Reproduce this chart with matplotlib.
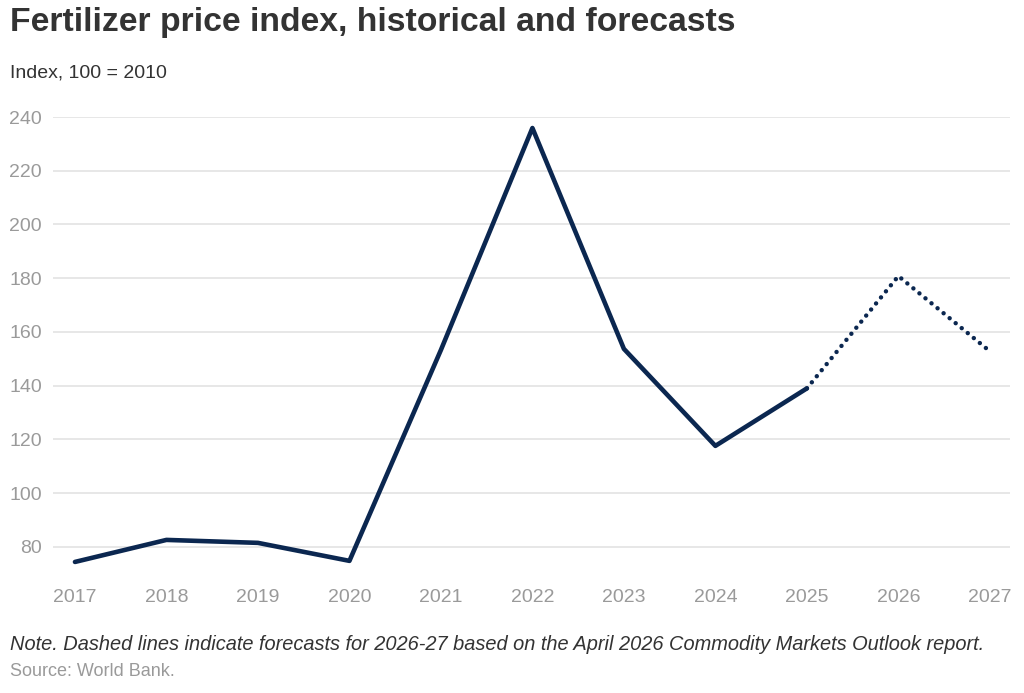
import matplotlib
matplotlib.use("Agg")
import matplotlib.pyplot as plt

years = [2017, 2018, 2019, 2020, 2021, 2022, 2023, 2024, 2025, 2026, 2027]
values = [74.4, 82.6, 81.5, 74.8, 153.3, 235.9, 153.7, 117.6, 139.0, 180.8, 152.8]
n_hist = 9  # 2017-2025 historical, 2025-2027 forecast
yticks = [80, 100, 120, 140, 160, 180, 200, 220, 240]

plt.rcParams['font.family'] = ['Liberation Sans', 'DejaVu Sans']
navy = '#0b2750'

fig = plt.figure(figsize=(10.24, 6.93), dpi=100)
ax = fig.add_axes([53/1024, 1-570/693, (1010-53)/1024, (570-117)/693])

ax.plot(years[:n_hist], values[:n_hist], color=navy, lw=3.3,
        solid_capstyle='round', solid_joinstyle='round')
ax.plot(years[n_hist-1:], values[n_hist-1:], color=navy, lw=3.2,
        linestyle=(0, (0.01, 1.75)), dash_capstyle='round')

ax.set_xlim(2016.76, 2027.22)
ax.set_ylim(71.4, 240)
ax.set_yticks(yticks)
ax.set_xticks(years)
ax.set_xticklabels([str(y) for y in years])
ax.grid(axis='y', color='#e3e3e3', lw=1.2)
ax.set_axisbelow(True)
for s in ax.spines.values():
    s.set_visible(False)
ax.tick_params(axis='both', length=0, labelsize=14, labelcolor='#9a9a9a')
ax.tick_params(axis='y', pad=8)
ax.tick_params(axis='x', pad=14)

fig.text(10/1024, 1-22/693, 'Fertilizer price index, historical and forecasts',
         fontsize=24.3, fontweight='bold', color='#333333', va='center', ha='left')
fig.text(10/1024, 1-73/693, 'Index, 100 = 2010', fontsize=14, color='#333333',
         va='center', ha='left')
fig.text(10/1024, 1-645/693,
         'Note. Dashed lines indicate forecasts for 2026-27 based on the April 2026 Commodity Markets Outlook report.',
         fontsize=14.4, style='italic', color='#333333', va='center', ha='left')
fig.text(10/1024, 1-672/693, 'Source: World Bank.', fontsize=13, color='#9a9a9a',
         va='center', ha='left')

fig.savefig('out.png', dpi=100)
